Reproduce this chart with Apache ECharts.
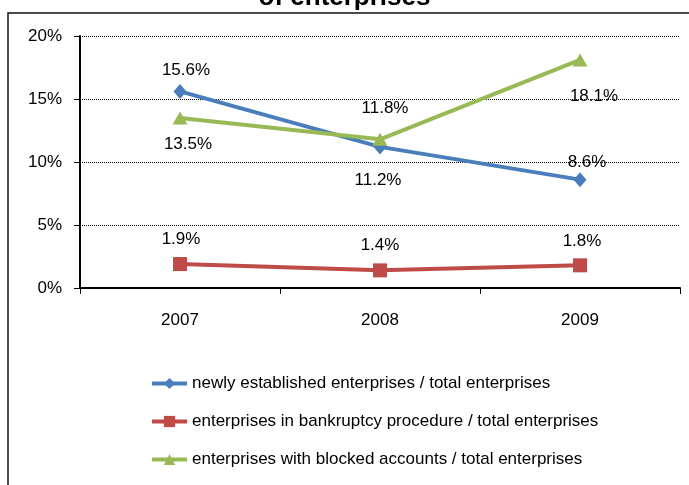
<!DOCTYPE html>
<html>
<head>
<meta charset="utf-8">
<script src="https://cdn.jsdelivr.net/npm/echarts@6/dist/echarts.min.js"></script>
<style>
  html, body { margin: 0; padding: 0; background: #fff; }
  #chart { width: 689px; height: 485px; }
</style>
</head>
<body>
<div id="chart"></div>
<script>
const years = ['2007', '2008', '2009']
const newlyEstablished = [15.6, 11.2, 8.6]
const bankruptcy = [1.9, 1.4, 1.8]
const blockedAccounts = [13.5, 11.8, 18.1]
const seriesNames = [
  'newly established enterprises / total enterprises',
  'enterprises in bankruptcy procedure / total enterprises',
  'enterprises with blocked accounts / total enterprises'
]

const FONT = 'Liberation Sans'

// label placement per point: [position, distance, dx]
const labelPlacement = [
  [['top', 5, 6], ['bottom', 17, -2], ['top', 1, 7]],
  [['top', 9, 1], ['top', 10, 0], ['top', 9, 2]],
  [['bottom', 11, 8], ['top', 16, 5], ['bottom', 21, 14]]
]

const makeData = (values, idx) => values.map((v, i) => {
  const [pos, dist, dx] = labelPlacement[idx][i]
  return { value: v, label: { position: pos, distance: dist, offset: [dx, 0] } }
})

const colors = ['#4a7ebb', '#be4b48', '#98b954']
const symbols = ['diamond', 'rect', 'triangle']
const symbolSizes = [[13, 15], [14, 14], [15, 13]]
const values = [newlyEstablished, bankruptcy, blockedAccounts]

const chart = echarts.init(document.getElementById('chart'))

chart.setOption({
  backgroundColor: '#fff',
  animation: false,
  textStyle: { fontFamily: FONT },
  title: {
    text: 'of enterprises',
    left: 'center',
    top: -20,
    textStyle: { fontFamily: FONT, fontWeight: 'bold', fontSize: 26, color: '#000' }
  },
  // outer frame: only the left and top edges fall inside the picture
  graphic: [{
    type: 'polyline',
    shape: { points: [[8, 600], [8, 13], [900, 13]] },
    style: { fill: null, stroke: '#111', lineWidth: 1.5 },
    silent: true, z: -1
  }],
  grid: { left: 80, right: 9, top: 36, bottom: 197 },
  legend: {
    orient: 'vertical',
    left: 150,
    top: 375,
    padding: 0,
    itemWidth: 35,
    itemHeight: 14,
    itemGap: 21,
    lineStyle: { width: 4 },
    textStyle: { fontFamily: FONT, fontSize: 17, color: '#000' },
    data: seriesNames
  },
  xAxis: {
    type: 'category',
    data: years,
    axisLine: { lineStyle: { color: '#000', width: 2 } },
    axisTick: { show: true, length: 6, lineStyle: { color: '#000' } },
    axisLabel: { color: '#000', fontSize: 17, fontFamily: FONT, margin: 24 }
  },
  yAxis: {
    type: 'value',
    min: 0,
    max: 20,
    interval: 5,
    axisLine: { show: true, lineStyle: { color: '#000', width: 2 } },
    axisTick: { show: true, length: 6, lineStyle: { color: '#000' } },
    axisLabel: { color: '#000', fontSize: 17, fontFamily: FONT, margin: 18, formatter: '{value}%' },
    splitLine: { lineStyle: { color: '#000', type: [1, 1], width: 1 } }
  },
  series: seriesNames.map((name, k) => ({
    name,
    type: 'line',
    data: makeData(values[k], k),
    color: colors[k],
    symbol: symbols[k],
    symbolSize: symbolSizes[k],
    lineStyle: { width: 4, color: colors[k] },
    itemStyle: { color: colors[k] },
    label: {
      show: true,
      color: '#000',
      fontSize: 17,
      fontFamily: FONT,
      formatter: p => p.value.toFixed(1) + '%'
    }
  }))
})
</script>
</body>
</html>
